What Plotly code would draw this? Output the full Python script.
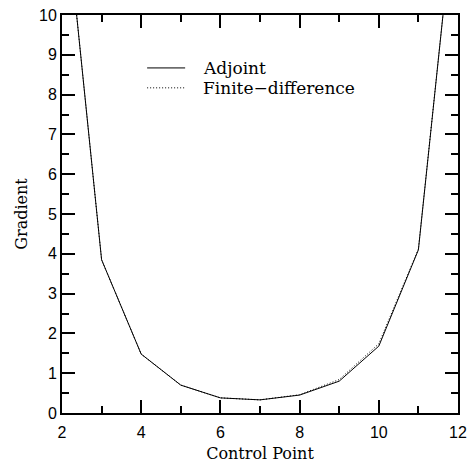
import plotly.graph_objects as go

# Gradient with respect to each control point
control_point = [2, 3, 4, 5, 6, 7, 8, 9, 10, 11, 12]
adjoint = [13.6, 3.85, 1.48, 0.70, 0.38, 0.33, 0.45, 0.80, 1.68, 4.10, 13.6]
finite_diff = [13.6, 3.85, 1.48, 0.70, 0.38, 0.33, 0.46, 0.84, 1.74, 4.12, 13.6]

series_names = ["Adjoint", "Finite\u2212difference"]
x_ticks = [2, 4, 6, 8, 10, 12]
y_ticks = [0, 1, 2, 3, 4, 5, 6, 7, 8, 9, 10]

serif = "DejaVu Serif"
sans = "Liberation Sans"
solid = dict(color="black", width=1)
dotted = dict(color="black", width=1, dash="1px,2px")

fig = go.Figure()
fig.add_trace(go.Scatter(x=control_point, y=adjoint, mode="lines", name=series_names[0],
                         line=solid, showlegend=False))
fig.add_trace(go.Scatter(x=control_point, y=finite_diff, mode="lines", name=series_names[1],
                         line=dotted, showlegend=False))

# Key drawn inside the plot area (paper coordinates)
key_rows = [(0.867, solid), (0.817, dotted)]
for (ky, style), label in zip(key_rows, series_names):
    fig.add_shape(type="line", xref="paper", yref="paper", x0=0.215, x1=0.311, y0=ky, y1=ky,
                  line=style)
    fig.add_annotation(xref="paper", yref="paper", x=0.352, y=ky, text=label, showarrow=False,
                       xanchor="left", yanchor="middle",
                       font=dict(family=serif, size=17, color="black"))

axis_common = dict(
    showgrid=False, zeroline=False, showline=True, linecolor="black", linewidth=2,
    mirror="ticks", ticks="inside", ticklen=13, tickwidth=2, tickcolor="black",
    tickfont=dict(family=sans, size=16, color="black"), automargin=False,
)

fig.update_xaxes(range=[2, 12], tickvals=x_ticks, ticklabelstandoff=4,
                 minor=dict(dtick=1, tick0=0, ticks="inside", ticklen=7, tickwidth=2, tickcolor="black"),
                 title=dict(text="Control Point", font=dict(family=serif, size=16, color="black"), standoff=8),
                 **axis_common)
fig.update_yaxes(range=[0, 10], tickvals=y_ticks,
                 minor=dict(dtick=0.5, tick0=0, ticks="inside", ticklen=7, tickwidth=2, tickcolor="black"),
                 title=dict(text="Gradient", font=dict(family=serif, size=16, color="black"), standoff=7),
                 **axis_common)

fig.update_layout(
    width=468, height=464,
    margin=dict(l=62, r=10, t=15, b=51),
    paper_bgcolor="white", plot_bgcolor="white",
    showlegend=False,
)

fig.write_html("out.html")
